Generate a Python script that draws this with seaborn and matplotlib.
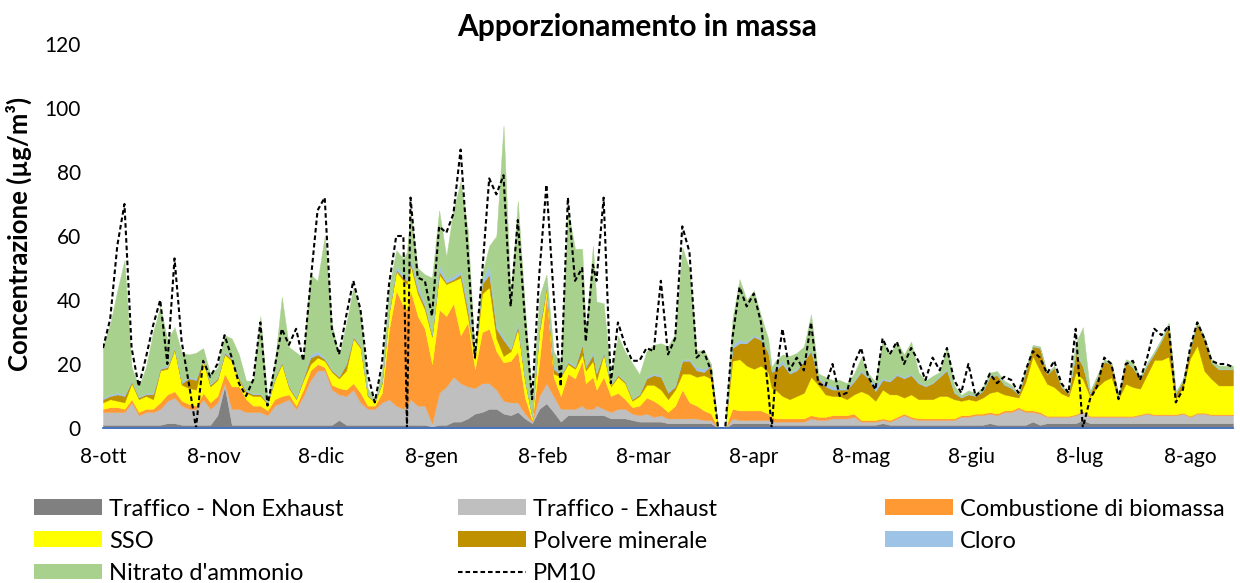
import numpy as np
import pandas as pd
import matplotlib
matplotlib.use("Agg")
import matplotlib.pyplot as plt
import matplotlib.patches as mpatches
from matplotlib.lines import Line2D
import seaborn as sns

# ---------------- data (day offsets from 8 Oct 2018) ----------------
days = [
    0, 2, 4, 6, 8, 10, 12, 14, 16, 18,
    20, 22, 24, 26, 28, 30, 32, 34, 36, 38,
    40, 42, 44, 46, 48, 50, 52, 54, 56, 58,
    60, 62, 64, 66, 68, 70, 72, 74, 76, 78,
    80, 82, 84, 85, 86, 88, 90, 92, 94, 96,
    98, 100, 102, 104, 106, 108, 110, 112, 114, 116,
    118, 120, 122, 124, 126, 128, 130, 132, 134, 135,
    137, 138, 140, 142, 144, 146, 148, 150, 152, 154,
    156, 158, 160, 162, 164, 166, 168, 170, 172, 174,
    176, 178, 180, 182, 184, 186, 187, 188, 190, 192,
    194, 196, 198, 200, 202, 204, 206, 208, 210, 212,
    214, 216, 218, 220, 222, 224, 226, 228, 230, 232,
    234, 236, 238, 240, 242, 244, 246, 248, 250, 252,
    254, 256, 258, 260, 262, 264, 266, 268, 270, 272,
    274, 276, 278, 280, 282, 284, 286, 288, 290, 292,
    294, 296, 298, 300, 302, 304, 306, 308, 310, 312,
    314, 316]

non_exhaust = [
    1, 1, 1, 1, 1, 1, 1, 1, 1, 1.5,
    1.5, 1, 1, 1, 1, 1, 4, 13, 1, 1,
    1, 1, 1, 1, 1, 1, 1, 1, 1, 1,
    1, 1, 1, 2.5, 1, 1, 1, 1, 1, 1,
    1, 1, 1, 1, 1, 1, 1, 0.5, 1, 1,
    2, 2, 3, 4.5, 5, 6, 6, 4.5, 4, 5,
    3, 1.5, 6, 7.7, 5, 2, 4, 4, 4, 4,
    4, 4, 4, 3, 3, 3, 2.5, 2, 2, 2,
    2, 1.5, 1.5, 1.5, 1.5, 1.5, 1.5, 1.5, 0, 0,
    1.5, 1.5, 1.5, 1.5, 1.5, 1.5, 1, 1, 1, 1,
    1, 1, 1, 1, 1, 1, 1, 1, 1, 1,
    1, 1, 1.5, 1, 1, 1, 1, 1, 1, 1,
    1, 1, 1, 1, 1, 1, 1, 1.5, 1, 1,
    1, 1, 1, 2, 1, 1.5, 1.5, 1.5, 1.5, 1.5,
    2.5, 1.5, 1.5, 1.5, 1.5, 1.5, 1.5, 1.5, 1.5, 1.5,
    1.5, 1.5, 1.5, 1.5, 1.5, 1.5, 1.5, 1.5, 1.5, 1.5,
    1.5, 1.5]

exhaust = [
    4, 4, 4, 4, 7, 3, 4, 4, 5, 7,
    8, 6, 5, 5, 8, 5, 4, 1, 5, 5,
    4, 4, 4, 3, 6, 7, 8, 5, 9, 14,
    17, 17, 11, 8, 9, 11, 7, 5, 5, 7,
    8, 6, 5, 6, 8, 6, 6, 1, 10, 12,
    14, 12, 10, 8, 9, 8, 6, 4, 4, 3,
    1.5, 0.5, 4, 6.3, 5, 4, 2, 2, 3, 2,
    2, 3, 2, 2, 3, 3, 2, 2, 2.5, 1.5,
    2, 1.5, 1.5, 1.5, 1.5, 1.5, 1, 1, 0, 0,
    1.5, 1, 1, 1, 1, 1, 1, 1, 1, 1,
    1, 1, 2, 1.5, 1.5, 2, 2, 2, 2.5, 1,
    1, 1, 1, 1, 2, 3, 2, 1.5, 1.5, 1.5,
    1.5, 1.5, 1.5, 2.5, 2.5, 3, 3, 3, 3, 4,
    4, 5, 4, 3, 3.5, 2, 2, 2, 2, 2.5,
    2.5, 2, 2, 2, 2, 2, 2, 2, 2.5, 3,
    2.5, 2.5, 2.5, 2.5, 3, 2, 3, 3, 2.5, 2.5,
    2.5, 2.5]

biomass = [
    1, 1.5, 1.5, 1, 1, 1, 1, 1, 2, 2,
    2, 1.5, 1.5, 1, 2, 2, 2, 3, 7, 7,
    4, 2, 2, 1.5, 2, 2, 1.5, 1, 2, 3,
    2, 1, 1.5, 2, 2, 2, 3, 1, 1, 3,
    22, 36, 32, 30, 34, 28, 24, 18.5, 26, 22,
    23, 15, 20, 6, 16, 17, 12, 12, 13, 16,
    5, 0.5, 11, 28, 6, 4, 11, 9.5, 14, 8,
    10, 5, 10, 5, 5, 3, 2, 3, 5, 5,
    3, 2, 4, 9, 5, 4, 3, 2, 0, 0,
    3, 3, 3, 3, 3, 2, 1.5, 1, 1, 1,
    1, 1, 1, 1, 1, 1, 1, 1, 1, 0.5,
    0.5, 0.5, 0.5, 0.5, 0.5, 0.5, 0.5, 0.5, 0.5, 0.5,
    0.5, 0.5, 0.5, 0.5, 0.5, 0.5, 0.5, 0.5, 0.5, 0.5,
    0.5, 0.5, 0.5, 0.5, 0.5, 0.3, 0.3, 0.3, 0.3, 0.3,
    0.3, 0.3, 0.3, 0.3, 0.3, 0.3, 0.3, 0.3, 0.3, 0.3,
    0.3, 0.3, 0.3, 0.3, 0.3, 0.3, 0.3, 0.3, 0.3, 0.3,
    0.3, 0.3]

sso = [
    2, 2.5, 2, 2, 5, 4, 4, 3, 10, 8,
    13, 5, 5, 5, 10, 5, 5, 6, 8, 2,
    2, 3, 3, 2, 6, 10, 2, 2, 3, 2,
    2, 2, 4, 3, 6, 14, 14, 3, 1, 3,
    5, 6, 8, 8, 8, 7, 6, 8.5, 11, 10,
    7, 18, 2, 3, 12, 13, 4, 2, 3, 7,
    5, 1, 9, 1.5, 1, 6, 3, 3, 2, 4,
    5, 3, 7, 3, 5, 5, 2, 3, 4, 5,
    5, 4, 5, 5, 9, 9, 11, 11, 0, 0,
    15, 16, 14, 13, 14, 13, 9, 9, 7, 6,
    7, 8, 12, 10, 7, 6, 6, 5, 6, 9,
    8, 6, 9, 8, 7, 5, 7, 6, 6, 6,
    7, 7, 6, 4.5, 5, 4, 5, 6, 7, 5,
    4.5, 3, 9, 17, 13, 10, 9, 7, 6, 13,
    10, 6, 9, 11, 12, 5.5, 10, 9, 8, 12,
    17, 17, 18, 5, 8, 18, 21, 13, 11, 9,
    9, 9]

mineral = [
    1, 1, 2, 2, 0.5, 0.5, 0.5, 1.5, 0.5, 0.5,
    0.5, 0.5, 3, 3, 0.5, 0.5, 0.5, 0.5, 0.5, 0.5,
    0.5, 0.5, 0.5, 0.3, 0.5, 0.5, 0.5, 0.3, 0.5, 2,
    1, 0.5, 0.5, 0.5, 2, 0.5, 0.5, 0.3, 0.2, 0.5,
    0.5, 0.5, 1, 1, 1, 1, 1, 0.5, 1, 0.5,
    0.5, 1, 2, 0.5, 3, 4, 3, 5, 0.5, 1,
    0.5, 0.2, 1, 1, 1.5, 0.5, 0.5, 0.5, 3, 1,
    2, 2, 0.5, 0.5, 0.5, 0.5, 0.5, 0.5, 2, 3,
    4, 2, 1, 4, 4, 2, 1, 4, 0, 0,
    4, 5, 7, 10, 8, 6, 5, 6, 10, 8,
    8, 10, 8, 2, 2.5, 2, 2, 3, 4, 6,
    5, 3, 3, 4, 6, 6, 6, 5, 4, 5,
    6, 8, 2, 1, 1.5, 1.5, 2, 5, 5, 3,
    2.5, 1, 3, 3, 7, 3, 6, 2, 1, 6,
    4, 1, 3, 6, 4, 0.5, 7, 6, 3, 3,
    2, 6, 10, 1.5, 2, 3, 7, 10, 5, 5,
    5, 5]

chloride = [
    0.5, 0.5, 0.5, 0.5, 0.5, 0.3, 0.5, 0.5, 0.5, 0.5,
    0.5, 0.5, 0.5, 0.5, 0.5, 0.3, 0.3, 0.5, 0.5, 0.5,
    0.3, 0.3, 0.5, 0.2, 0.5, 0.5, 0.3, 0.3, 0.5, 1,
    1, 0.5, 0.5, 0.3, 0.5, 0.5, 0.5, 0.2, 0.1, 0.3,
    0.5, 1, 1, 1, 1, 2, 1, 1, 2, 1,
    1, 1, 3, 0.5, 1, 3, 1, 1, 0.5, 1,
    0.5, 0.1, 1, 0.5, 1, 0.5, 0.5, 0.5, 0.5, 0.5,
    1, 0.5, 0.5, 0.3, 0.3, 0.3, 0.3, 0.3, 0.5, 0.5,
    0.5, 0.5, 0.5, 0.5, 0.5, 1, 1, 0.5, 0, 0,
    1, 1, 0.5, 0.5, 0.5, 0.5, 0.5, 1, 1, 0.5,
    0.5, 0.5, 0.5, 0.5, 1, 1, 0.5, 0.5, 0.5, 0.5,
    0.5, 2, 0.5, 0.5, 0.5, 0.5, 0.5, 0.5, 0.3, 0.3,
    0.5, 0.5, 0.3, 0.3, 0.3, 0.3, 0.3, 0.3, 0.3, 0.3,
    0.5, 0.2, 0.3, 0.2, 0.2, 0.2, 0.2, 0.2, 0.2, 0.2,
    0.2, 0.2, 0.2, 0.2, 0.2, 0.2, 0.2, 0.2, 0.2, 0.2,
    0.2, 0.2, 0.2, 0.2, 0.2, 0.2, 0.2, 0.2, 0.2, 0.2,
    0.2, 0.2]

nitrate = [
    16, 22, 32, 42, 4, 3, 8, 19, 19, 8,
    6, 9, 7, 8, 3, 3, 3, 5, 6, 7,
    3, 4, 24, 1, 4, 20, 12, 14, 6, 25,
    22, 38, 14, 6, 12, 15, 10, 2, 0.5, 3,
    7, 5, 5, 8, 15, 5, 9, 17, 17, 7,
    21, 28, 22, 0, 2, 6, 28, 66, 16, 38,
    22, 5, 9, 3, 4.5, 3, 47, 36.5, 29.5, 10.5,
    33, 22, 15, 2, 12, 9, 11, 6, 8, 9,
    10, 14, 16, 35, 28, 5, 6, 0, 0, 0,
    8, 19, 13, 14, 7, 4, 1, 2, 2, 5,
    5, 4, 11, 1, 2, 2, 2.5, 1.5, 2, 4,
    1, 1, 12, 8, 10, 7, 10, 3, 1.5, 2,
    1, 7, 2, 0.5, 1, 0.5, 1, 1, 1, 1,
    0.5, 0.3, 0.5, 0.3, 0.3, 0.3, 0.5, 0.3, 0.3, 3,
    12, 0.5, 0.5, 0.5, 0.5, 0.3, 0.5, 1.5, 0.5, 0.5,
    0.5, 0.5, 0.5, 0.3, 0.3, 0.5, 0.5, 0.5, 1, 1,
    1, 1]

pm10 = [
    25, 34, 57, 70, 25, 13, 22, 32, 40, 20,
    53, 27, 14, 0, 21, 16, 20, 29, 22, 14,
    10, 15, 33, 7, 19, 31, 26, 31, 21, 45,
    68, 72, 31, 23, 35, 46, 37, 17, 8, 20,
    45, 60, 60, 0, 72, 47, 46, 35, 63, 61,
    67, 87, 55, 22, 48, 78, 73, 79, 38, 65,
    34, 9, 48, 76, 42, 13, 72, 46, 50, 27,
    51, 46, 72, 14, 33, 26, 21, 21, 25, 24,
    46, 23, 28, 63, 55, 22, 24, 18, 0, 0,
    28, 44, 38, 42, 33, 12, 0, 15, 31, 18,
    22, 18, 33, 14, 13, 20, 10, 11, 20, 25,
    16, 12, 28, 23, 27, 20, 25, 21, 15, 22,
    18, 25, 15, 11, 20, 10, 12, 17, 14, 16,
    15, 11, 18, 24, 22, 17, 21, 14, 11, 31,
    0, 9, 13, 22, 20, 9, 20, 21, 15, 22,
    31, 29, 32, 8, 12, 25, 33, 28, 21, 20,
    20, 19]

series_names = ["Traffico - Non Exhaust", "Traffico - Exhaust",
                "Combustione di biomassa", "SSO", "Polvere minerale",
                "Cloro", "Nitrato d'ammonio"]
line_name = "PM10"
tick_labels = ["8-ott", "8-nov", "8-dic", "8-gen", "8-feb", "8-mar",
               "8-apr", "8-mag", "8-giu", "8-lug", "8-ago"]
y_ticks = [0, 20, 40, 60, 80, 100, 120]
title = "Apporzionamento in massa"
y_label = "Concentrazione (µg/m³)"

# ---------------- plotting ----------------
sns.set_theme(style="white")
plt.rcParams["font.family"] = ["Lato", "DejaVu Sans"]
plt.rcParams["text.color"] = "black"

colors = ["#808080", "#BFBFBF", "#FF9933", "#FFFF00",
          "#BF9000", "#9DC3E6", "#A9D18E"]

W, H = 1240, 583
fig = plt.figure(figsize=(W / 100, H / 100), dpi=100)
ax = fig.add_axes([103 / W, 1 - 428 / H, (1233 - 103) / W, (428 - 44) / H])

start = pd.Timestamp("2018-10-08")
tick_days = [((start + pd.DateOffset(months=i)) - start).days
             for i in range(len(tick_labels))]

stack = [non_exhaust, exhaust, biomass, sso, mineral, chloride, nitrate]
polys = ax.stackplot(days, *stack, colors=colors, linewidth=0.3)
for p, c in zip(polys, colors):
    p.set_edgecolor(c)

df = pd.DataFrame({"day": days, "pm10": pm10})
sns.lineplot(data=df, x="day", y="pm10", ax=ax, color="black",
             linewidth=1.5, legend=False)
pm_line = ax.lines[-1]
pm_line.set_linestyle((0, (2.2, 1.4)))

ax.set_xlim(days[0], days[-1])
ax.set_ylim(0, 120)
ax.set_yticks(y_ticks)
ax.set_xticks(tick_days)
ax.set_xticklabels(tick_labels)
ax.set_xlabel("")
ax.set_ylabel("")
sns.despine(ax=ax, left=True)
ax.spines["bottom"].set_color("#4472C4")
ax.spines["bottom"].set_linewidth(1.3)
ax.tick_params(axis="x", direction="out", length=5, width=1.3,
               color="#4472C4", labelcolor="black", labelsize=15, pad=9)
ax.tick_params(axis="y", length=0, labelcolor="black", labelsize=15, pad=16)
ax.grid(False)

fig.text(637 / W, 1 - 27 / H, title, ha="center", va="center",
         fontsize=21.5, fontweight="bold")
fig.text(19 / W, 1 - 234 / H, y_label, ha="center", va="center",
         rotation=90, fontsize=18.5, fontweight="bold")

# ---------------- legend (3 columns, row-wise order) ----------------
patch = lambda i: mpatches.Patch(facecolor=colors[i], edgecolor="none",
                                 label=series_names[i])
pm_handle = Line2D([], [], color="black", linewidth=1.5,
                   linestyle=(0, (2.2, 1.4)), label=line_name)
columns = [
    ([patch(0), patch(3), patch(6)], 34),
    ([patch(1), patch(4), pm_handle], 458),
    ([patch(2), patch(5)], 885),
]
for handles, xpx in columns:
    fig.legend(handles=handles, loc="upper left",
               bbox_to_anchor=(xpx / W, 1 - 498.5 / H), frameon=False,
               fontsize=17, handlelength=2.88, handleheight=0.64,
               handletextpad=0.3, labelspacing=0.47, borderpad=0,
               borderaxespad=0)

fig.savefig("out.png", dpi=100)
